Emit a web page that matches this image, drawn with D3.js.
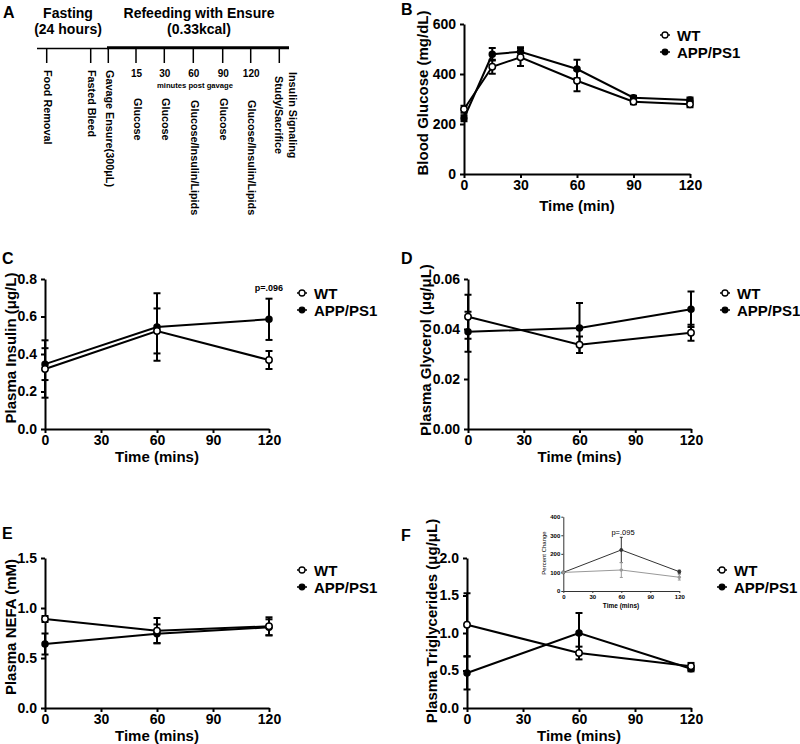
<!DOCTYPE html>
<html>
<head>
<meta charset="utf-8">
<script src="https://cdn.jsdelivr.net/npm/d3@7"></script>
<style>
  html, body { margin: 0; padding: 0; background: #fff; }
  svg { display: block; font-family: "Liberation Sans", Arial, sans-serif; }
  text { fill: #000; }
</style>
</head>
<body>
<script>
// ---------------- DATA ----------------
const xTicks = [0, 30, 60, 90, 120];

// Panel B: blood glucose (mg/dL)
const timesB = [0, 15, 30, 60, 90, 120];
const glucoseWT = [259, 429, 467, 373, 289, 279];
const glucoseWTErr = [14, 28, 35, 42, 10, 12];
const glucoseAPP = [223, 479, 489, 420, 305, 296];
const glucoseAPPErr = [12, 25, 18, 37, 8, 10];
const glucoseTicks = [0, 200, 400, 600];

// Panels C-F: three time points
const timesCF = [0, 60, 120];

const insulinWT = [0.320, 0.523, 0.368];
const insulinWTErr = [0.153, 0.12, 0.048];
const insulinAPP = [0.346, 0.544, 0.585];
const insulinAPPErr = [0.085, 0.18, 0.11];
const insulinTicks = [0, 0.2, 0.4, 0.6, 0.8];

const glycerolWT = [0.0449, 0.0337, 0.0385];
const glycerolWTErr = [0.0088, 0.0033, 0.0032];
const glycerolAPP = [0.0389, 0.0404, 0.0479];
const glycerolAPPErr = [0.008, 0.0100, 0.0071];
const glycerolTicks = [0, 0.02, 0.04, 0.06];

const nefaWT = [0.89, 0.773, 0.817];
const nefaWTErr = [0.03, 0.127, 0.09];
const nefaAPP = [0.64, 0.743, 0.807];
const nefaAPPErr = [0.105, 0.093, 0.08];
const nefaTicks = [0, 0.5, 1.0, 1.5];

const tgWT = [1.11, 0.733, 0.556];
const tgWTErr = [0.42, 0.085, 0.045];
const tgAPP = [0.467, 1.0, 0.524];
const tgAPPErr = [0.22, 0.267, 0.035];
const tgTicks = [0, 0.5, 1.0, 1.5, 2.0];

// Inset: percent change
const pctWT = [100, 113, 74];
const pctWTErr = [0, 40, 15];
const pctAPP = [100, 221, 104];
const pctAPPErr = [0, 68, 8];
const pctTicks = [0, 100, 200, 300, 400];

const seriesNames = ["WT", "APP/PS1"];

// Panel A: timeline
const timelineLabels = ["Food Removal", "Fasted Bleed", "Gavage Ensure(300\u03bcL)", "Glucose", "Glucose",
  "Glucose/Insulin/Lipids", "Glucose", "Glucose/Insulin/Lipids", ""];
const timelineMinutes = ["", "", "", "15", "30", "60", "90", "120", ""];

// ---------------- DRAW ----------------
const W = 800, H = 744;
const svg = d3.select("body").append("svg").attr("width", W).attr("height", H);

function letter(t, x, y) {
  svg.append("text").attr("x", x).attr("y", y).attr("font-size", 16)
    .attr("font-weight", "bold").attr("fill", "#000").text(t);
}

// ---- Panel A ----
(function () {
  letter("A", 3, 18);
  const g = svg.append("g");
  const hdr = [["Fasting", 68, 13], ["(24 hours)", 68, 29], ["Refeeding with Ensure", 199, 13], ["(0.33kcal)", 199, 29]];
  hdr.forEach(h => g.append("text").attr("x", h[1]).attr("y", h[2]).attr("text-anchor", "middle")
    .attr("dominant-baseline", "central").attr("font-size", 14).attr("font-weight", "bold").text(h[0]));

  const tickX = [46.7, 90.7, 108.3, 136, 164.3, 193.3, 222.7, 250.7, 279.3];
  g.append("line").attr("x1", 37).attr("x2", 108).attr("y1", 48.5).attr("y2", 48.5)
    .attr("stroke", "#000").attr("stroke-width", 1.3);
  g.append("line").attr("x1", 107).attr("x2", 289).attr("y1", 47.8).attr("y2", 47.8)
    .attr("stroke", "#000").attr("stroke-width", 3);
  tickX.forEach(x => g.append("line").attr("x1", x).attr("x2", x).attr("y1", 48).attr("y2", 63)
    .attr("stroke", "#000").attr("stroke-width", 1.5));

  timelineMinutes.forEach((m, i) => {
    if (!m) return;
    g.append("text").attr("x", tickX[i] + 0.5).attr("y", 73).attr("text-anchor", "middle")
      .attr("dominant-baseline", "central").attr("font-size", 10).attr("font-weight", "bold").text(m);
  });
  g.append("text").attr("x", 195).attr("y", 85).attr("text-anchor", "middle")
    .attr("dominant-baseline", "central").attr("font-size", 6.8).attr("font-weight", "bold")
    .attr("textLength", 76).attr("lengthAdjust", "spacingAndGlyphs").text("minutes post gavage");

  const labY = [70, 70, 70, 98, 98, 100, 98, 100, 72];
  timelineLabels.forEach((t, i) => {
    if (!t) return;
    g.append("text").attr("transform", `translate(${tickX[i] + 1.5},${labY[i]}) rotate(90)`)
      .attr("dominant-baseline", "central").attr("font-size", 10.8).attr("font-weight", "bold").text(t);
  });
  g.append("text").attr("transform", `translate(292.7,72) rotate(90)`)
    .attr("dominant-baseline", "central").attr("font-size", 10.8).attr("font-weight", "bold").text("Insulin Signaling");
  g.append("text").attr("transform", `translate(279,76) rotate(90)`)
    .attr("dominant-baseline", "central").attr("font-size", 10.8).attr("font-weight", "bold").text("Study/Sacrifice");
})();

function drawSeries(g, x, y, times, vals, errs, opts) {
  const o = Object.assign({ lw: 2, cap: 3.5, color: "#000" }, opts);
  const pts = times.map((t, i) => ({ t, v: vals[i], e: errs[i] }));
  pts.forEach(p => {
    if (!p.e) return;
    const xx = x(p.t), y1 = y(p.v - p.e), y2 = y(p.v + p.e);
    g.append("line").attr("x1", xx).attr("x2", xx).attr("y1", y1).attr("y2", y2)
      .attr("stroke", o.color).attr("stroke-width", o.lw);
    [y1, y2].forEach(yy => g.append("line").attr("x1", xx - o.cap).attr("x2", xx + o.cap)
      .attr("y1", yy).attr("y2", yy).attr("stroke", o.color).attr("stroke-width", o.lw));
  });
  g.append("path").datum(pts).attr("fill", "none").attr("stroke", o.color).attr("stroke-width", o.lw)
    .attr("d", d3.line().x(d => x(d.t)).y(d => y(d.v)));
  return pts;
}
function drawMarkers(g, x, y, pts, open, r, color, mlw) {
  pts.forEach(p => g.append("circle").attr("cx", x(p.t)).attr("cy", y(p.v)).attr("r", r)
    .attr("fill", open ? "#fff" : color).attr("stroke", color).attr("stroke-width", mlw));
}

function panel(cfg) {
  const g = svg.append("g");
  const x = d3.scaleLinear().domain([0, 120]).range([cfg.x0, cfg.x1]);
  const y = d3.scaleLinear().domain([0, cfg.ymax]).range([cfg.y1, cfg.y0]);

  const xa = g.append("g").attr("transform", `translate(0,${cfg.y1})`)
    .call(d3.axisBottom(x).tickValues(xTicks).tickSize(4).tickSizeOuter(0).tickPadding(2.5).tickFormat(d3.format("d")));
  const ya = g.append("g").attr("transform", `translate(${cfg.x0},0)`)
    .call(d3.axisLeft(y).tickValues(cfg.yTicks).tickSize(4).tickSizeOuter(0).tickPadding(4).tickFormat(d3.format(cfg.fmt)));
  [xa, ya].forEach(a => {
    a.select(".domain").attr("stroke-width", 2);
    a.selectAll(".tick line").attr("stroke-width", 2);
    a.selectAll("text").attr("font-size", 14).attr("font-weight", "bold").attr("fill", "#000")
      .attr("font-family", "Liberation Sans, Arial, sans-serif");
  });
  g.append("text").attr("x", (cfg.x0 + cfg.x1) / 2).attr("y", cfg.xtY).attr("text-anchor", "middle")
    .attr("dominant-baseline", "central").attr("font-size", 15).attr("font-weight", "bold").text(cfg.xTitle);
  g.append("text").attr("transform", `translate(${cfg.ytX},${cfg.ytY}) rotate(-90)`).attr("text-anchor", "middle")
    .attr("dominant-baseline", "central").attr("font-size", 15).attr("font-weight", "bold").text(cfg.yTitle);

  const pApp = drawSeries(g, x, y, cfg.times, cfg.app, cfg.appErr, {});
  const pWt = drawSeries(g, x, y, cfg.times, cfg.wt, cfg.wtErr, {});
  drawMarkers(g, x, y, pApp, false, 3, "#000", 1.5);
  drawMarkers(g, x, y, pWt, true, 3.2, "#000", 1.5);

  seriesNames.forEach((n, i) => {
    const ly = cfg.legY + i * 17;
    g.append("line").attr("x1", cfg.legX - 5).attr("x2", cfg.legX + 5).attr("y1", ly).attr("y2", ly)
      .attr("stroke", "#000").attr("stroke-width", 1.5);
    g.append("circle").attr("cx", cfg.legX).attr("cy", ly).attr("r", i === 0 ? 3 : 2.8)
      .attr("fill", i === 0 ? "#fff" : "#000").attr("stroke", "#000").attr("stroke-width", 1.3);
    g.append("text").attr("x", cfg.legX + 12).attr("y", ly).attr("dominant-baseline", "central")
      .attr("font-size", 15).attr("font-weight", "bold").text(n);
  });
  letter(cfg.letter, cfg.lx, cfg.ly);
  return { g, x, y };
}

// ---- Panel B ----
panel({ letter: "B", lx: 401, ly: 15, x0: 464, x1: 690, y0: 24, y1: 174, ymax: 600,
  yTicks: glucoseTicks, fmt: "d", times: timesB, wt: glucoseWT, wtErr: glucoseWTErr,
  app: glucoseAPP, appErr: glucoseAPPErr, xTitle: "Time (min)", xtY: 205,
  yTitle: "Blood Glucose (mg/dL)", ytX: 422, ytY: 93, legX: 665, legY: 35 });

// ---- Panel C ----
const pc = panel({ letter: "C", lx: 2, ly: 264, x0: 45, x1: 269, y0: 279, y1: 429, ymax: 0.8,
  yTicks: insulinTicks, fmt: ".1f", times: timesCF, wt: insulinWT, wtErr: insulinWTErr,
  app: insulinAPP, appErr: insulinAPPErr, xTitle: "Time (mins)", xtY: 456,
  yTitle: "Plasma Insulin (\u03bcg/L)", ytX: 10, ytY: 348, legX: 302, legY: 293 });
pc.g.append("text").attr("x", pc.x(120)).attr("y", 288).attr("text-anchor", "middle")
  .attr("dominant-baseline", "central").attr("font-size", 9).attr("font-weight", "bold").text("p=.096");

// ---- Panel D ----
panel({ letter: "D", lx: 401, ly: 264, x0: 468, x1: 691, y0: 279, y1: 429, ymax: 0.06,
  yTicks: glycerolTicks, fmt: ".2f", times: timesCF, wt: glycerolWT, wtErr: glycerolWTErr,
  app: glycerolAPP, appErr: glycerolAPPErr, xTitle: "Time (mins)", xtY: 456,
  yTitle: "Plasma Glycerol (\u03bcg/\u03bcL)", ytX: 425, ytY: 350, legX: 725, legY: 293 });

// ---- Panel E ----
panel({ letter: "E", lx: 2, ly: 539, x0: 45, x1: 269, y0: 558, y1: 708, ymax: 1.5,
  yTicks: nefaTicks, fmt: ".1f", times: timesCF, wt: nefaWT, wtErr: nefaWTErr,
  app: nefaAPP, appErr: nefaAPPErr, xTitle: "Time (mins)", xtY: 735,
  yTitle: "Plasma NEFA (mM)", ytX: 10, ytY: 627, legX: 302, legY: 570 });

// ---- Panel F ----
panel({ letter: "F", lx: 401, ly: 541, x0: 467, x1: 691, y0: 558, y1: 708, ymax: 2.0,
  yTicks: tgTicks, fmt: ".1f", times: timesCF, wt: tgWT, wtErr: tgWTErr,
  app: tgAPP, appErr: tgAPPErr, xTitle: "Time (mins)", xtY: 735,
  yTitle: "Plasma Triglycerides (\u03bcg/\u03bcL)", ytX: 431, ytY: 621, legX: 722, legY: 570 });

// ---- Inset ----
(function () {
  const g = svg.append("g");
  const x = d3.scaleLinear().domain([0, 120]).range([563.3, 679.3]);
  const y = d3.scaleLinear().domain([0, 400]).range([591, 516.7]);
  const xa = g.append("g").attr("transform", "translate(0,591)")
    .call(d3.axisBottom(x).tickValues(xTicks).tickSize(2).tickSizeOuter(0).tickPadding(1.5));
  const ya = g.append("g").attr("transform", "translate(563.3,0)")
    .call(d3.axisLeft(y).tickValues(pctTicks).tickSize(2).tickSizeOuter(0).tickPadding(1));
  [xa, ya].forEach(a => {
    a.select(".domain").attr("stroke", "#333").attr("stroke-width", 1);
    a.selectAll(".tick line").attr("stroke", "#333");
    a.selectAll("text").attr("font-size", 6).attr("font-weight", "bold").attr("fill", "#222")
      .attr("font-family", "Liberation Sans, Arial, sans-serif");
  });
  g.append("text").attr("x", 621).attr("y", 605).attr("text-anchor", "middle").attr("dominant-baseline", "central")
    .attr("font-size", 6.5).attr("font-weight", "bold").attr("fill", "#222").text("Time (mins)");
  g.append("text").attr("transform", "translate(544,553) rotate(-90)").attr("text-anchor", "middle")
    .attr("dominant-baseline", "central").attr("font-size", 6).attr("fill", "#222").text("Percent Change");
  g.append("text").attr("x", 623).attr("y", 532).attr("text-anchor", "middle").attr("dominant-baseline", "central")
    .attr("font-size", 7.5).attr("fill", "#222").text("p=.095");
  const pA = drawSeries(g, x, y, timesCF, pctAPP, pctAPPErr, { lw: 1, cap: 1.5, color: "#333" });
  const pW = drawSeries(g, x, y, timesCF, pctWT, pctWTErr, { lw: 1, cap: 1.5, color: "#999" });
  drawMarkers(g, x, y, pA, false, 1.5, "#333", 1);
  drawMarkers(g, x, y, pW, false, 1.3, "#999", 1);
})();
</script>
</body>
</html>
